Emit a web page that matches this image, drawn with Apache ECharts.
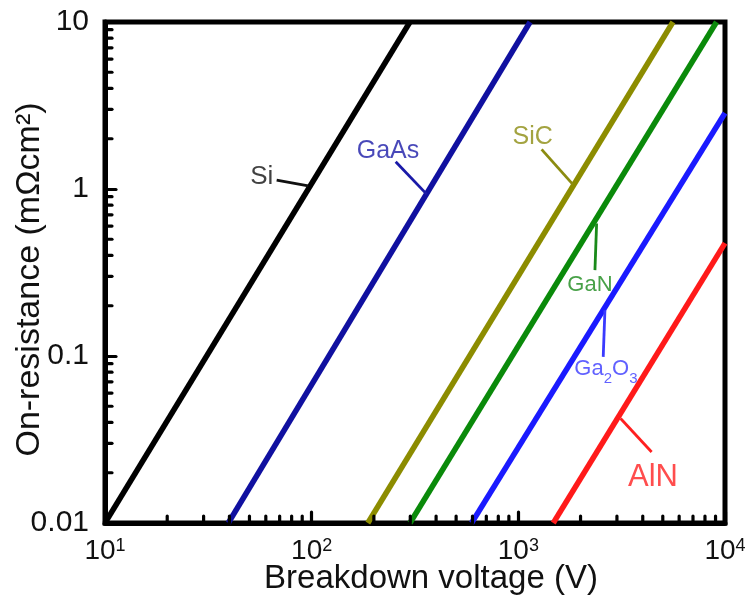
<!DOCTYPE html>
<html>
<head>
<meta charset="utf-8">
<script src="https://cdn.jsdelivr.net/npm/echarts@6/dist/echarts.min.js"></script>
<style>
  html, body { margin: 0; padding: 0; background: #fff; }
  #chart { width: 753px; height: 607px; }
</style>
</head>
<body>
<div id="chart"></div>
<script>
// Specific on-resistance limit vs. breakdown voltage for power semiconductors

// Each material's limit line: [breakdown voltage (V), on-resistance (mΩcm²)] end points
const materials = ['Si', 'GaAs', 'SiC', 'GaN', 'Ga2O3', 'AlN'];
const siLine    = [[10, 0.01],   [299, 10]];
const gaasLine  = [[39.5, 0.01], [1140, 10]];
const sicLine   = [[187, 0.01],  [5600, 10]];
const ganLine   = [[299, 0.01],  [9100, 10]];
const ga2o3Line = [[594, 0.01],  [10000, 2.85]];
const alnLine   = [[1476, 0.01], [10000, 0.474]];

// Label anchor points (data coordinates)
const labelPoints = [[57.3, 1.184], [234, 1.694], [1173, 2.055], [2220, 0.2656], [2654, 0.0834], [4480, 0.01886]];
// Leader lines from each label to its curve
const siLeader    = [[67.7, 1.131], [96.3, 1.045]];
const gaasLeader  = [[255, 1.455],  [360, 0.932]];
const sicLeader   = [[1296, 1.727], [1831, 1.070]];
const ganLeader   = [[2348, 0.3266], [2392, 0.6221]];
const ga2o3Leader = [[2575, 0.0988], [2624, 0.188]];
const alnLeader   = [[4415, 0.02663], [3125, 0.04222]];

// Axis ranges and tick labels
const xRange = [10, 10000];
const yRange = [0.01, 10];
const xTickExponents = [1, 2, 3, 4];
const yTickLabels = ['0.01', '0.1', '1', '10'];
const xMinorTicks = [20, 30, 40, 50, 60, 70, 80, 90, 200, 300, 400, 500, 600, 700, 800, 900,
                     2000, 3000, 4000, 5000, 6000, 7000, 8000, 9000];
const yMinorTicks = [0.02, 0.03, 0.04, 0.05, 0.06, 0.07, 0.08, 0.09, 0.2, 0.3, 0.4, 0.5, 0.6, 0.7, 0.8, 0.9,
                     2, 3, 4, 5, 6, 7, 8, 9];

const FONT = '"Liberation Sans", Arial, Helvetica, sans-serif';
const colors = {
  Si: '#000000', GaAs: '#1010a0', SiC: '#8c8c00', GaN: '#0a8a0a', Ga2O3: '#1a1aff', AlN: '#ff1a1a'
};
const labelColors = {
  Si: '#111111', GaAs: '#1a1aa8', SiC: '#8c8c10', GaN: '#1a8a1a', Ga2O3: '#3a3aff', AlN: '#ff2020'
};
const labelSizes = { Si: 26, GaAs: 25, SiC: 25, GaN: 22, Ga2O3: 22, AlN: 31 };
const labelText = { Si: 'Si', GaAs: 'GaAs', SiC: 'SiC', GaN: 'GaN', Ga2O3: 'Ga{sub|2}O{sub|3}', AlN: 'AlN' };

const lines = { Si: siLine, GaAs: gaasLine, SiC: sicLine, GaN: ganLine, Ga2O3: ga2o3Line, AlN: alnLine };
const leaders = { Si: siLeader, GaAs: gaasLeader, SiC: sicLeader, GaN: ganLeader, Ga2O3: ga2o3Leader, AlN: alnLeader };

const series = [];

materials.forEach(function (m) {
  series.push({
    name: m,
    type: 'line',
    data: lines[m],
    showSymbol: false,
    symbol: 'none',
    clip: false,
    lineStyle: { color: colors[m], width: 5.5, cap: 'butt' },
    z: 3
  });
});

materials.forEach(function (m) {
  series.push({
    name: m + ' leader',
    type: 'line',
    data: leaders[m],
    showSymbol: false,
    symbol: 'none',
    lineStyle: { color: labelColors[m], width: 2.8 },
    z: 4
  });
});

materials.forEach(function (m, i) {
  series.push({
    name: m + ' label',
    type: 'scatter',
    data: [labelPoints[i]],
    symbolSize: 0,
    silent: true,
    z: 5,
    label: {
      show: true,
      position: 'inside',
      formatter: labelText[m],
      color: labelColors[m],
      fontFamily: FONT,
      fontSize: labelSizes[m],
      lineHeight: m === 'Ga2O3' ? 34 : labelSizes[m] + 4,
      rich: {
        sub: { fontSize: 15, lineHeight: 15, verticalAlign: 'bottom', color: labelColors[m], fontFamily: FONT }
      }
    }
  });
});

// Minor ticks on the bottom and left axes, drawn inward
series.push({
  type: 'custom',
  name: 'x minor ticks',
  silent: true,
  z: 6,
  data: xMinorTicks.map(function (v) { return [v, yRange[0]]; }),
  renderItem: function (params, api) {
    const p = api.coord([api.value(0), api.value(1)]);
    return {
      type: 'line',
      shape: { x1: p[0], y1: p[1], x2: p[0], y2: p[1] - 7 },
      style: { stroke: '#000', lineWidth: 3.2, lineCap: 'round' }
    };
  }
});
series.push({
  type: 'custom',
  name: 'y minor ticks',
  silent: true,
  z: 6,
  data: yMinorTicks.map(function (v) { return [xRange[0], v]; }),
  renderItem: function (params, api) {
    const p = api.coord([api.value(0), api.value(1)]);
    return {
      type: 'line',
      shape: { x1: p[0], y1: p[1], x2: p[0] + 7, y2: p[1] },
      style: { stroke: '#000', lineWidth: 3.2, lineCap: 'round' }
    };
  }
});

const chart = echarts.init(document.getElementById('chart'), null, { renderer: 'canvas' });
chart.setOption({
  animation: false,
  backgroundColor: '#ffffff',
  grid: {
    left: 105, right: 28, top: 22, bottom: 84,
    show: true, borderColor: '#000', borderWidth: 5,
    containLabel: false,
    outerBoundsMode: 'none'
  },
  xAxis: {
    type: 'log',
    logBase: 10,
    min: xRange[0],
    max: xRange[1],
    name: 'Breakdown voltage (V)',
    nameLocation: 'middle',
    nameGap: 39,
    nameMoveOverlap: false,
    nameTextStyle: { fontFamily: FONT, fontSize: 33, color: '#111', padding: [0, 0, 0, 32] },
    axisLine: { show: true, lineStyle: { color: '#000', width: 5 } },
    axisTick: { show: true, inside: true, length: 11, lineStyle: { color: '#000', width: 3.2, cap: 'round' } },
    minorTick: { show: false },
    splitLine: { show: false },
    axisLabel: {
      show: true,
      margin: 14,
      showMinLabel: true,
      showMaxLabel: true,
      formatter: function (v) {
        const e = Math.round(Math.log10(v));
        return xTickExponents.indexOf(e) >= 0 ? '{b|10}{s|' + e + '}' : '';
      },
      rich: {
        b: { fontFamily: FONT, fontSize: 28, lineHeight: 28, color: '#111' },
        s: { fontFamily: FONT, fontSize: 18, lineHeight: 18, verticalAlign: 'top', color: '#111' }
      }
    }
  },
  yAxis: {
    type: 'log',
    logBase: 10,
    min: yRange[0],
    max: yRange[1],
    name: 'On-resistance (mΩcm²)',
    nameLocation: 'middle',
    nameRotate: 90,
    nameGap: 58,
    nameMoveOverlap: false,
    nameTextStyle: { fontFamily: FONT, fontSize: 34, color: '#111', padding: [0, 14, 0, 0] },
    axisLine: { show: true, lineStyle: { color: '#000', width: 5 } },
    axisTick: { show: true, inside: true, length: 11, lineStyle: { color: '#000', width: 3.2, cap: 'round' } },
    minorTick: { show: false },
    splitLine: { show: false },
    axisLabel: {
      show: true,
      margin: 16,
      showMinLabel: true,
      showMaxLabel: true,
      fontFamily: FONT,
      fontSize: 30,
      color: '#111',
      formatter: function (v) {
        const e = Math.round(Math.log10(v));
        return yTickLabels[e + 2] || '';
      }
    }
  },
  series: series
});
</script>
</body>
</html>
